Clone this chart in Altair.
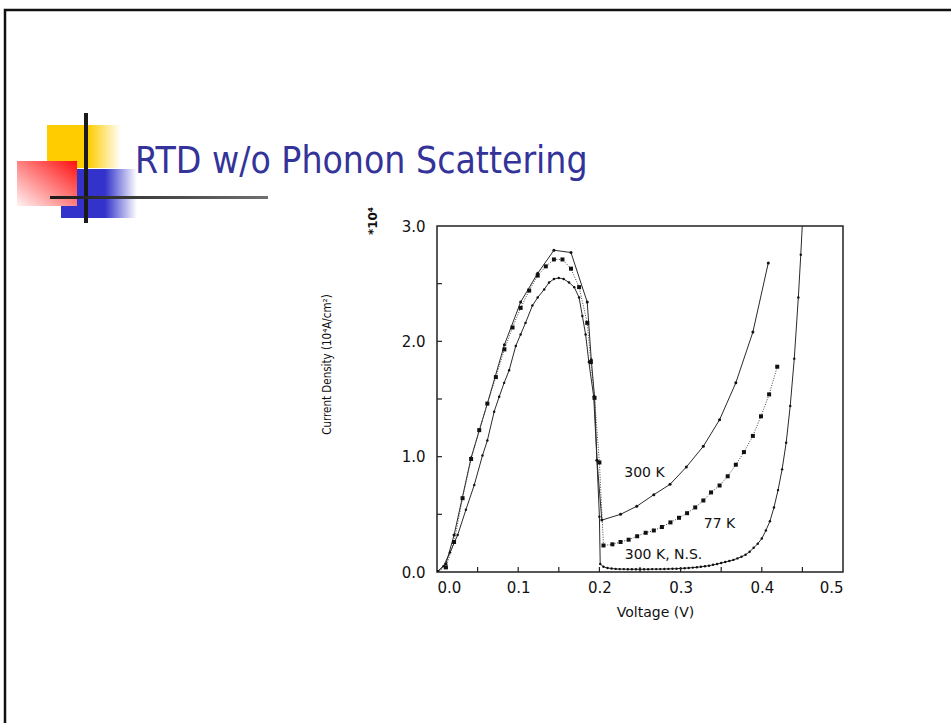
import altair as alt
import pandas as pd

# ---------------- data ----------------
# 300 K (solid line, small dots)
v300 = [0, 0.011, 0.021, 0.042, 0.062, 0.083, 0.103, 0.124, 0.144, 0.165, 0.185,
        0.190, 0.194, 0.197, 0.203, 0.226, 0.246, 0.267, 0.287, 0.307, 0.328,
        0.348, 0.368, 0.389, 0.408]
j300 = [0, 0.07, 0.32, 0.99, 1.46, 1.97, 2.34, 2.59, 2.79, 2.77, 2.34,
        1.84, 1.52, 0.97, 0.45, 0.50, 0.57, 0.67, 0.76, 0.91, 1.09,
        1.32, 1.64, 2.08, 2.68]

# 77 K (dotted line, square markers)
v77 = [0, 0.011, 0.021, 0.0315, 0.042, 0.052, 0.062, 0.0725, 0.083, 0.093, 0.103,
       0.1135, 0.124, 0.134, 0.144, 0.1545, 0.165, 0.175, 0.185, 0.1895, 0.194,
       0.200, 0.205, 0.216, 0.226, 0.236, 0.2465, 0.257, 0.267, 0.277, 0.2875,
       0.298, 0.308, 0.318, 0.328, 0.3375, 0.348, 0.358, 0.368, 0.378, 0.389,
       0.399, 0.409, 0.419]
j77 = [0, 0.04, 0.26, 0.64, 0.98, 1.23, 1.46, 1.69, 1.93, 2.12, 2.29,
       2.44, 2.57, 2.65, 2.71, 2.71, 2.63, 2.47, 2.16, 1.82, 1.51,
       0.95, 0.23, 0.24, 0.26, 0.28, 0.31, 0.34, 0.36, 0.39, 0.43,
       0.47, 0.51, 0.56, 0.62, 0.69, 0.75, 0.83, 0.93, 1.04, 1.18,
       1.35, 1.54, 1.78]

# 300 K, no scattering (solid line, dense small dots)
vns = [0, 0.008, 0.016, 0.0254, 0.0356, 0.0459, 0.056, 0.062, 0.0704, 0.0766,
       0.0827, 0.0889, 0.097, 0.103, 0.109, 0.1175, 0.124, 0.132, 0.138, 0.144,
       0.150, 0.156, 0.1626, 0.169, 0.175, 0.179, 0.183, 0.187, 0.193, 0.197,
       0.200, 0.201, 0.205, 0.210, 0.215, 0.220, 0.225, 0.230, 0.235, 0.240,
       0.245, 0.250, 0.255, 0.260, 0.265, 0.270, 0.275, 0.280, 0.285, 0.290,
       0.295, 0.300, 0.305, 0.310, 0.315, 0.320, 0.325, 0.330, 0.335, 0.340,
       0.345, 0.350, 0.355, 0.360, 0.365, 0.370, 0.375, 0.380, 0.385, 0.390,
       0.395, 0.400, 0.405, 0.410, 0.415, 0.420, 0.425, 0.430, 0.435, 0.440,
       0.445, 0.448, 0.452]
jns = [0, 0.05, 0.17, 0.32, 0.54, 0.755, 1.01, 1.14, 1.39, 1.52,
       1.64, 1.75, 1.96, 2.06, 2.16, 2.31, 2.38, 2.45, 2.51, 2.54,
       2.55, 2.54, 2.51, 2.47, 2.38, 2.22, 2.06, 1.82, 1.52, 0.97,
       0.48, 0.07, 0.045, 0.035, 0.03, 0.027, 0.025, 0.025, 0.024, 0.024,
       0.024, 0.024, 0.024, 0.024, 0.025, 0.025, 0.025, 0.026, 0.027, 0.028,
       0.029, 0.031, 0.033, 0.035, 0.038, 0.041, 0.045, 0.05, 0.055, 0.062,
       0.07, 0.078, 0.087, 0.095, 0.105, 0.118, 0.132, 0.15, 0.175, 0.21,
       0.245, 0.29, 0.36, 0.44, 0.56, 0.71, 0.89, 1.12, 1.44, 1.85,
       2.38, 2.75, 3.3]

x_minor = [0.05, 0.10, 0.15, 0.20, 0.25, 0.30, 0.35, 0.40, 0.45]
y_minor = [0.5, 1.0, 1.5, 2.0, 2.5]
x_labels = [0.0, 0.1, 0.2, 0.3, 0.4, 0.5]
y_labels = [0.0, 1.0, 2.0, 3.0]

curve_text = ["300 K", "77 K", "300 K,  N.S."]
curve_v = [0.2555, 0.348, 0.279]
curve_j = [0.858, 0.42, 0.147]

# ---------------- geometry (page pixels) ----------------
L, T, W, H = 437, 226, 406, 346


def px(X):
    return X - L


def py(Y):
    return Y - T


xs = alt.Scale(domain=[0, 0.5], nice=False, zero=False)
ys = alt.Scale(domain=[0, 3.0], nice=False, zero=False)

def frame(v, j):
    return pd.DataFrame({"V": v, "J": j, "i": list(range(len(v)))})

d300, d77, dns = frame(v300, j300), frame(v77, j77), frame(vns, jns)

X = alt.X("V:Q", scale=xs,
          axis=alt.Axis(values=x_labels, format=".1f", title="Voltage (V)",
                        titleX=655 - L, titleY=612 - (T + H), titleAlign="center",
                        titleBaseline="middle", titleFont="DejaVu Sans",
                        titleFontSize=14, titleFontWeight="normal",
                        labelPadding=8))
Y = alt.Y("J:Q", scale=ys,
          axis=alt.Axis(values=y_labels, format=".1f",
                        title="Current Density (10⁴A/cm²)",
                        titleX=px(327), titleY=py(364), titleAlign="center",
                        titleBaseline="middle", titleAngle=270,
                        titleFont="DejaVu Sans Condensed, Liberation Sans",
                        titleFontSize=11.5, titleFontWeight="normal",
                        labelPadding=12))

LINE = "#2a2a2a"
DOT = "#111111"

l300 = alt.Chart(d300).mark_line(color=LINE, strokeWidth=1, clip=True).encode(
    x=X, y=Y, order="i:Q")
p300 = alt.Chart(d300).mark_point(filled=True, shape="circle", size=9,
                                  color=DOT, opacity=1, clip=True).encode(x="V:Q", y="J:Q")
l77 = alt.Chart(d77).mark_line(color="#444444", strokeWidth=1, strokeDash=[1, 1.5],
                               clip=True).encode(x="V:Q", y="J:Q", order="i:Q")
p77 = alt.Chart(d77).mark_point(filled=True, shape="square", size=16,
                                color=DOT, opacity=1, clip=True).encode(x="V:Q", y="J:Q")
lns = alt.Chart(dns).mark_line(color=LINE, strokeWidth=1, clip=True).encode(
    x="V:Q", y="J:Q", order="i:Q")
pns = alt.Chart(dns).mark_point(filled=True, shape="circle", size=6,
                                color=DOT, opacity=1, clip=True).encode(x="V:Q", y="J:Q")

# inner tick marks
tx = alt.Chart(pd.DataFrame({"V": x_minor})).mark_rule(color="#222", strokeWidth=1.2).encode(
    x="V:Q", y=alt.value(H), y2=alt.value(H - 5))
ty = alt.Chart(pd.DataFrame({"J": y_minor})).mark_rule(color="#222", strokeWidth=1.2).encode(
    y="J:Q", x=alt.value(0), x2=alt.value(5))

# curve labels
lab = alt.Chart(pd.DataFrame({"V": curve_v, "J": curve_j, "t": curve_text})).mark_text(
    font="DejaVu Sans", fontSize=14, color="#111", align="center", baseline="middle").encode(
    x="V:Q", y="J:Q", text="t:N")

one = pd.DataFrame({"k": [0]})

mult = alt.Chart(one).mark_text(text="*10⁴", angle=270, font="DejaVu Sans", fontSize=12,
                                fontWeight="bold", color="#111", align="center",
                                baseline="middle").encode(
    x=alt.value(px(373)), y=alt.value(py(221)))

# ---------------- slide decoration ----------------
def grad(stops, x1=0, y1=0, x2=1, y2=0):
    return alt.LinearGradient(gradient="linear",
                              stops=[alt.GradientStop(color=c, offset=o) for o, c in stops],
                              x1=x1, y1=y1, x2=x2, y2=y2)

def box(x0, y0, x1, y1, **kw):
    return alt.Chart(one).mark_rect(**kw).encode(
        x=alt.value(px(x0)), x2=alt.value(px(x1)), y=alt.value(py(y0)), y2=alt.value(py(y1)))

border = box(5, 10, 980, 760, filled=False, stroke="#111", strokeWidth=2.5)
yellow = box(47, 125, 121, 168, fill=grad([(0, "#FFCC00"), (0.56, "#FFCC00"),
                                           (1, "rgba(255,204,0,0)")]))
blue = box(61, 169, 137, 218, fill=grad([(0, "#3333CC"), (0.58, "#3333CC"),
                                         (1, "rgba(51,51,204,0)")]))
red = box(17, 161, 77, 206, fill=grad([(0, "#FF1010"), (1, "#FFF2F2")],
                                      x1=1, y1=0, x2=0, y2=1))
vbar = box(84, 113, 88, 223, fill="#1a1a1a")
hbar = box(50, 196, 268, 199, fill=grad([(0, "#1a1a1a"), (1, "#707070")]))

title = alt.Chart(one).mark_text(text="RTD w/o Phonon Scattering",
                                 font="DejaVu Sans Condensed, Liberation Sans",
                                 fontSize=37, color="#333399", align="left",
                                 baseline="alphabetic").encode(
    x=alt.value(px(135)), y=alt.value(py(173)))

chart = alt.layer(
    border, yellow, blue, red, vbar, hbar, title,
    l300, l77, lns, p300, p77, pns, tx, ty, lab, mult
).properties(
    width=W, height=H,
    autosize=alt.AutoSizeParams(type="none"),
    padding={"left": L, "top": T, "right": 951 - L - W, "bottom": 723 - T - H},
    background="white",
).configure_view(
    stroke="#222", strokeWidth=1.5
).configure_axis(
    domain=False, ticks=False, grid=False,
    labelFont="DejaVu Sans", labelFontSize=15, labelColor="#111",
    titleColor="#111"
)

chart.save("out.html", embed_options={"renderer": "svg", "actions": False})
